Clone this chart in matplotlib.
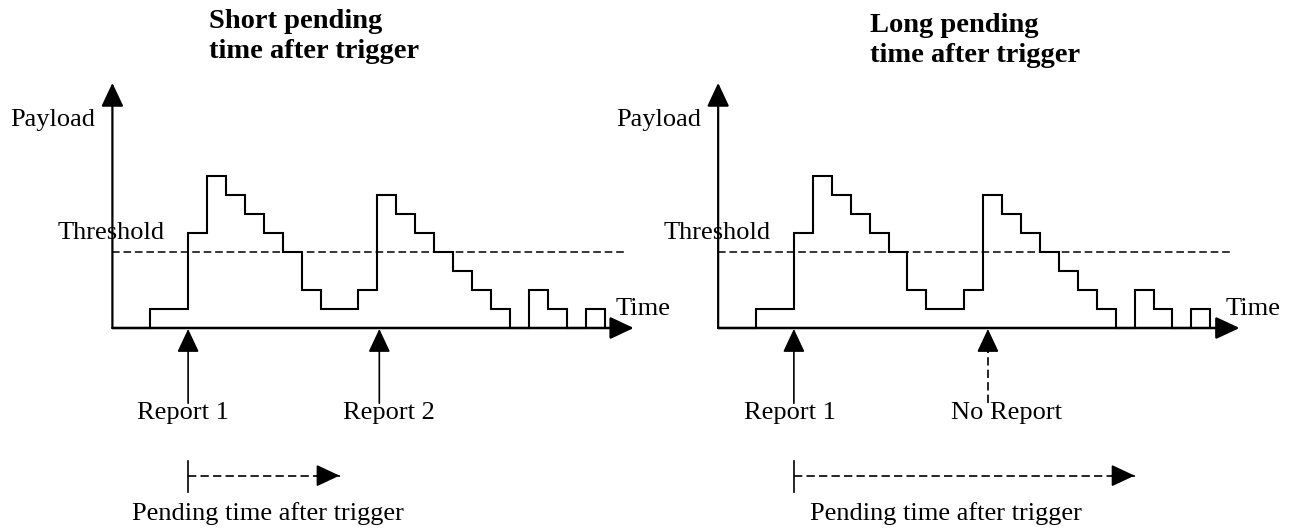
import numpy as np
import matplotlib.pyplot as plt

# payload per time slot (same trace in both panels)
payload = [0, 0, 1, 1, 5, 8, 7, 6, 5, 4, 2, 1, 1, 2, 7, 6, 5, 4, 3, 2, 1, 0, 2, 1, 0, 1]
threshold = 4

panel_titles = [["Short pending", "time after trigger"], ["Long pending", "time after trigger"]]
report_times = [[4, 14.1], [4, 14.25]]
report_labels = [["Report 1", "Report 2"], ["Report 1", "No Report"]]
report_sent = [[True, True], [True, False]]
pending_time = [8, 18]

plt.rcParams['font.family'] = ['Liberation Serif', 'DejaVu Serif']

UX = 18.93   # px per time slot
UY = 19.0    # px per payload unit
fig = plt.figure(figsize=(12.91, 5.28), dpi=100)
ax = fig.add_axes([0, 0, 1, 1])
ax.set_xlim(-112.4 / UX, (1291 - 112.4) / UX)
ax.set_ylim(-200 / UY, 328 / UY)
ax.axis('off')

HEAD = '-|>,head_length=1.45,head_width=0.68'


def arrow(x0, y0, x1, y1, ls='-', lw=1.1):
    if ls == '-':
        ax.annotate('', xy=(x1, y1), xytext=(x0, y0),
                    arrowprops=dict(arrowstyle=HEAD, mutation_scale=10, lw=lw,
                                    color='black', shrinkA=0, shrinkB=0))
    else:
        # dashed shaft, solid head
        ax.plot([x0, x1], [y0, y1], color='black', lw=lw, dashes=(5, 2.5))
        dx, dy = x1 - x0, y1 - y0
        n = np.hypot(dx, dy)
        ax.annotate('', xy=(x1, y1), xytext=(x1 - dx / n * 1.2, y1 - dy / n * 1.2),
                    arrowprops=dict(arrowstyle=HEAD, mutation_scale=10, lw=lw,
                                    color='black', shrinkA=0, shrinkB=0))


edges = np.arange(len(payload) + 1)
fs = 19
for p in range(2):
    off = 32 * p
    # payload trace
    ax.stairs(payload, edges + off, baseline=0, color='black', lw=1.5)
    # axes
    arrow(off, 0, off + 27.54, 0, lw=1.8)
    arrow(off, 0, off, 12.9, lw=1.6)
    # threshold
    ax.plot([off, off + 27.1], [threshold, threshold], color='black', lw=1.1, dashes=(5, 2.5))

    ax.text(off - 5.4, 10.63, "Payload", fontsize=fs, va='baseline', ha='left')
    ax.text(off - 2.9, 4.67, "Threshold", fontsize=fs, va='baseline', ha='left')
    ax.text(off + 26.6 + 0.2 * p, 0.68, "Time", fontsize=fs, va='baseline', ha='left')

    tx = [5.08, 8.03][p]
    ty = [[15.77, 14.2], [15.6, 14.0]][p]
    for line, y in zip(panel_titles[p], ty):
        ax.text(off + tx, y, line, fontsize=20.5, fontweight='bold',
                va='baseline', ha='left')

    # report arrows
    lx = [[1.31, 12.17], [1.34, 12.3]][p]
    for t, lab, sent, x_lab in zip(report_times[p], report_labels[p], report_sent[p], lx):
        arrow(off + t, -3.96, off + t, -0.05, ls='-' if sent else '--', lw=1.2)
        ax.text(off + x_lab, -4.81, lab, fontsize=fs, va='baseline', ha='left')

    # pending time after trigger
    t0 = report_times[p][0]
    ax.plot([off + t0, off + t0], [-6.98, -8.62], color='black', lw=1.2)
    arrow(off + t0, -7.77, off + t0 + pending_time[p], -7.77, ls='--', lw=1.2)
    ax.text(off + [1.02, 4.83][p], -10.1, "Pending time after trigger", fontsize=fs,
            va='baseline', ha='left')

fig.savefig('out.png', dpi=100)
